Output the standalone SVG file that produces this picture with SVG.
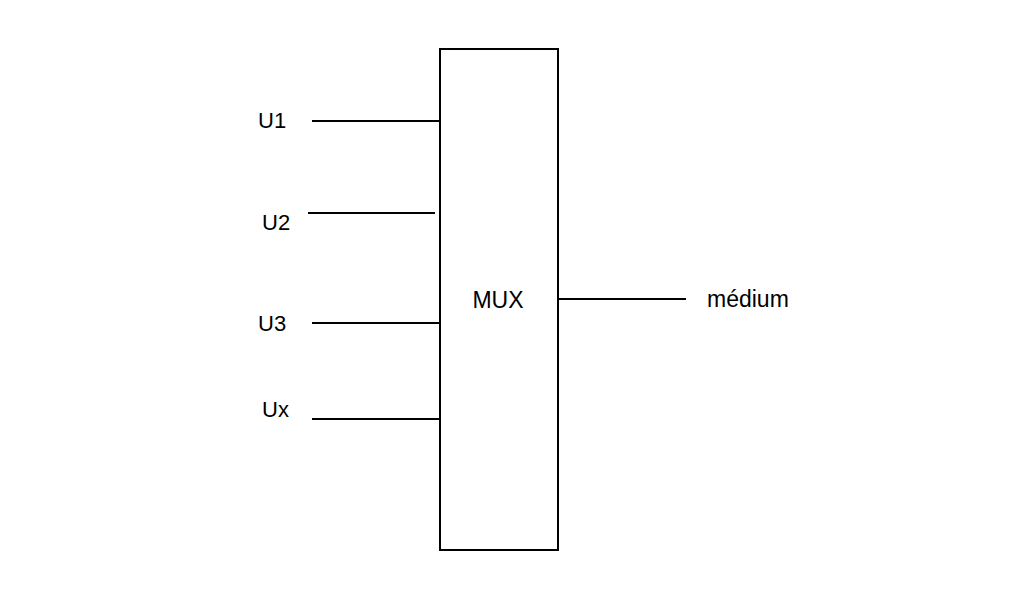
<svg xmlns="http://www.w3.org/2000/svg" width="1032" height="601" viewBox="0 0 1032 601">
<style>
.t{font-family:"Liberation Sans",Arial,sans-serif;font-size:22px;fill:#000}
.b{font-size:23px}
.l{stroke:#000;stroke-width:2;fill:none}
</style>
<rect width="1032" height="601" fill="#fff"/>
<g id="mux">
<rect x="440" y="49" width="118" height="501" class="l"/>
<text class="t b" x="498" y="308" text-anchor="middle">MUX</text>
</g>
<g id="u1"><text class="t" x="258" y="127.5">U1</text></g>
<g id="u2"><text class="t" x="262" y="229.5">U2</text></g>
<g id="u3"><text class="t" x="258" y="330.5">U3</text></g>
<g id="ux"><text class="t" x="262" y="417">Ux</text></g>
<g id="medium"><text class="t b" x="707" y="307">médium</text></g>
<g id="connectors">
<line class="l" x1="312" y1="121" x2="440" y2="121"/>
<line class="l" x1="308" y1="213" x2="435" y2="213"/>
<line class="l" x1="312" y1="323" x2="440" y2="323"/>
<line class="l" x1="312" y1="419" x2="440" y2="419"/>
<line class="l" x1="558" y1="299" x2="686" y2="299"/>
</g>
</svg>
